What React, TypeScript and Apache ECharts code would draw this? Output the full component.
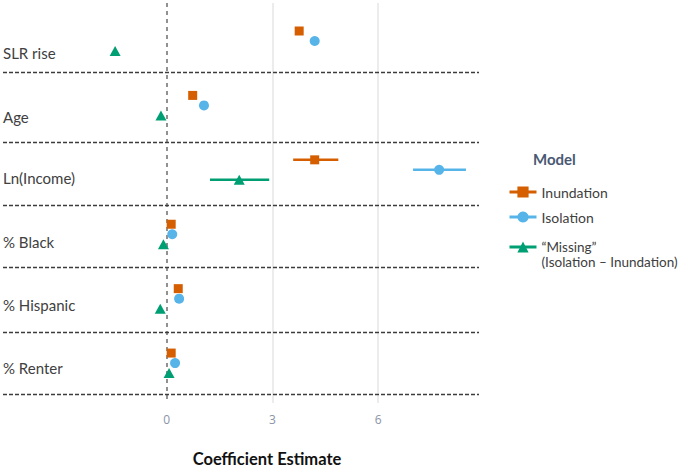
import React, { useEffect, useRef } from 'react';
import * as echarts from 'echarts';

const categories = ['SLR rise', 'Age', 'Ln(Income)', '% Black', '% Hispanic', '% Renter'];
const modelNames = ['Inundation', 'Isolation', '“Missing”\n(Isolation – Inundation)'];
const modelColors = ['#D55E00', '#56B4E9', '#009E73'];

const inundation = [3.76, 0.74, 4.2, 0.13, 0.33, 0.13];
const isolation = [4.2, 1.06, 7.73, 0.16, 0.355, 0.24];
const missing = [-1.46, -0.16, 2.06, -0.09, -0.18, 0.07];

const inundationLow = [null, null, 3.59, null, null, null];
const inundationHigh = [null, null, 4.87, null, null, null];
const isolationLow = [null, null, 6.99, null, null, null];
const isolationHigh = [null, null, 8.49, null, null, null];
const missingLow = [null, null, 1.23, null, null, null];
const missingHigh = [null, null, 2.91, null, null, null];

const xTickLabels = [0, 3, 6];
const separators = [0.48, 1.57, 2.55, 3.52, 4.52, 5.48];
const labelShift = [12, 11.5, 8.5, 8, 6, 4.5];

const FONT = 'Lato';

export default function App() {
  const ref = useRef<HTMLDivElement>(null);
  useEffect(() => {
    if (!ref.current) return;
    const chart = echarts.init(ref.current, undefined, { renderer: 'svg' });

    const offsets = [-10, 0, 10];
    const symbols = ['rect', 'circle', 'triangle'];
    const sizes: any[] = [9, 10, [11, 10]];
    const values = [inundation, isolation, missing];
    const lows = [inundationLow, isolationLow, missingLow];
    const highs = [inundationHigh, isolationHigh, missingHigh];

    const rich: any = {};
    categories.forEach((_, i) => {
      rich['r' + i] = {
        fontFamily: FONT,
        fontSize: 15,
        color: '#404040',
        padding: [labelShift[i] * 2, 0, 0, 0],
      };
    });

    const errorSeries = values.map((_, k) => ({
      type: 'custom',
      name: 'err' + k,
      silent: true,
      z: 9,
      encode: { x: [0, 1], y: 2 },
      data: lows[k]
        .map((lo, i) => (lo == null ? null : [lo, highs[k][i], i]))
        .filter((d) => d != null),
      renderItem: (params: any, api: any) => {
        const a = api.coord([api.value(0), api.value(2)]);
        const b = api.coord([api.value(1), api.value(2)]);
        return {
          type: 'line',
          shape: { x1: a[0], y1: a[1] + offsets[k], x2: b[0], y2: b[1] + offsets[k] },
          style: { stroke: modelColors[k], lineWidth: 2.5 },
        };
      },
    }));

    const pointSeries = values.map((vals, k) => {
      const s: any = {
        type: 'line',
        name: modelNames[k],
        data: vals.map((v, i) => [v, i]),
        symbol: symbols[k],
        symbolSize: sizes[k],
        symbolOffset: [0, offsets[k]],
        showSymbol: true,
        lineStyle: { width: 0, color: modelColors[k] },
        itemStyle: { color: modelColors[k], opacity: 1 },
        z: 10,
        silent: true,
      };
      if (k === 1) {
        s.markLine = {
          silent: true,
          z: 1,
          symbol: ['none', 'none'],
          label: { show: false },
          emphasis: { disabled: true },
          data: [
            ...xTickLabels
              .filter((t) => t !== 0)
              .map((t) => ({ xAxis: t, lineStyle: { color: '#e6e6e6', width: 1.5, type: 'solid' } })),
            { xAxis: 0, lineStyle: { color: '#6e6e6e', width: 1.5, type: [4, 4] } },
            ...separators.map((v) => ({
              yAxis: v,
              lineStyle: { color: '#3c3c3c', width: 1.3, type: [4, 2] },
            })),
          ],
        };
      }
      return s;
    });

    chart.setOption({
      animation: false,
      title: {
        text: 'Model',
        left: 533,
        top: 151,
        padding: 0,
        textStyle: { fontFamily: FONT, fontWeight: 'bold', fontSize: 15, color: '#4a5973' },
      },
      legend: [
        {
          data: [modelNames[0], modelNames[1]],
          orient: 'vertical',
          left: 508,
          top: 185,
          padding: 0,
          itemWidth: 27,
          itemHeight: 14,
          itemGap: 11,
          selectedMode: false,
          lineStyle: { width: 3 },
          textStyle: { fontFamily: FONT, fontSize: 14, color: '#404040' },
        },
        {
          data: [modelNames[2]],
          orient: 'vertical',
          left: 508,
          top: 224.5,
          padding: 0,
          itemWidth: 27,
          itemHeight: 14,
          selectedMode: false,
          lineStyle: { width: 3 },
          formatter: (name: string) => '\n' + name,
          textStyle: {
            fontFamily: FONT,
            fontSize: 13.5,
            lineHeight: 15,
            color: '#404040',
          },
        },
      ],
      grid: { left: 3, top: 3, right: 206, bottom: 65, containLabel: false, outerBoundsMode: 'none' },
      xAxis: {
        type: 'value',
        min: -4.64,
        max: 8.86,
        minInterval: 3,
        maxInterval: 3,
        axisLine: { show: false },
        axisTick: { show: false },
        splitLine: { show: false },
        axisLabel: {
          margin: 10,
          fontFamily: 'Open Sans',
          fontSize: 12,
          color: '#8a94a6',
          formatter: (v: number) => (xTickLabels.some((t) => Math.abs(t - v) < 1e-6) ? String(Math.round(v)) : ''),
        },
        name: 'Coefficient Estimate',
        nameLocation: 'middle',
        nameGap: 47,
        nameTextStyle: {
          fontFamily: FONT,
          fontWeight: 'bold',
          fontSize: 16.5,
          color: '#111',
          padding: [0, 0, 0, 52],
        },
      },
      yAxis: {
        type: 'value',
        inverse: true,
        min: -0.59,
        max: 5.62,
        minInterval: 1,
        maxInterval: 1,
        axisLine: { show: false },
        axisTick: { show: false },
        splitLine: { show: false },
        axisLabel: {
          inside: true,
          margin: 0,
          fontFamily: FONT,
          fontSize: 15,
          color: '#404040',
          rich,
          formatter: (v: number) => {
            const r = Math.round(v);
            if (Math.abs(v - r) > 1e-6 || r < 0 || r >= categories.length) return '';
            return '{r' + r + '|' + categories[r] + '}';
          },
        },
      },
      series: [...errorSeries, ...pointSeries],
    });
    return () => chart.dispose();
  }, []);
  return (
    <div
      ref={ref}
      style={{ position: 'absolute', left: 0, top: 0, width: 685, height: 468 }}
    />
  );
}
